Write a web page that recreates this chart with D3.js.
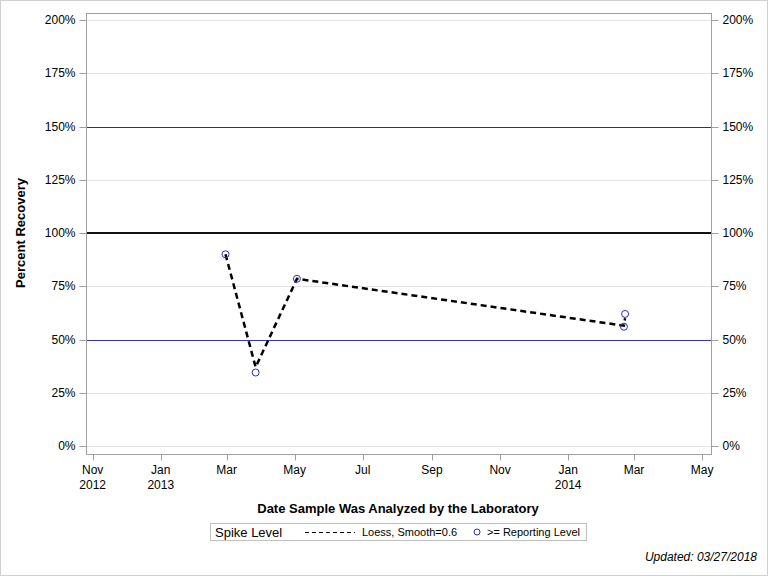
<!DOCTYPE html>
<html><head><meta charset="utf-8">
<script src="https://cdn.jsdelivr.net/npm/d3@7"></script>
<style>
body{margin:0;background:#fff;}
svg{display:block;font-family:"Liberation Sans",Arial,sans-serif;}
</style></head><body>
<svg id="chart" width="768" height="576"></svg>
<script>
// ---- data ----
const pointDates = ["2013-02-28","2013-03-27","2013-05-03","2014-02-21","2014-02-20"];
const pointValues = [90, 34.5, 78.5, 62, 56];
const loessDates = ["2013-02-28","2013-03-27","2013-05-03","2014-02-20","2014-02-21"];
const loessValues = [90, 37, 78.5, 56.5, 60];
const yTicks = [0, 25, 50, 75, 100, 125, 150, 175, 200];
const xTickDates = ["2012-11-01","2013-01-01","2013-03-01","2013-05-01","2013-07-01","2013-09-01","2013-11-01","2014-01-01","2014-03-01","2014-05-01"];
const xTickLabels = [["Nov","2012"],["Jan","2013"],["Mar",""],["May",""],["Jul",""],["Sep",""],["Nov",""],["Jan","2014"],["Mar",""],["May",""]];
const refLines = [{v:150,color:"#2c2c8a",w:1},{v:100,color:"#111",w:2},{v:50,color:"#3535c8",w:1}];

const parse = d3.utcParse("%Y-%m-%d");
const svg = d3.select("#chart");
const L=86, R=711, T=13, B=454;

svg.append("rect").attr("x",0.5).attr("y",0.5).attr("width",767).attr("height",575)
  .attr("fill","none").attr("stroke","#d0d0d0");

const x = d3.scaleUtc().domain([parse("2012-10-26"), parse("2014-05-09")]).range([L,R]);
const y = d3.scaleLinear().domain([0,200]).range([446,20]);
const ys = v => Math.round(y(v)) + 0.5;

// gridlines
svg.append("g").selectAll("line").data(yTicks).join("line")
  .attr("x1",L).attr("x2",R).attr("y1",d=>ys(d)).attr("y2",d=>ys(d))
  .attr("stroke","#e4e4e4");

// reference lines
svg.append("g").selectAll("line").data(refLines).join("line")
  .attr("x1",L).attr("x2",R)
  .attr("y1",d=>d.w===1?ys(d.v):Math.round(y(d.v)))
  .attr("y2",d=>d.w===1?ys(d.v):Math.round(y(d.v)))
  .attr("stroke",d=>d.color).attr("stroke-width",d=>d.w);

// frame
svg.append("rect").attr("x",L+0.5).attr("y",T+0.5).attr("width",R-L).attr("height",B-T)
  .attr("fill","none").attr("stroke","#a0a0a0");

// y axes
const yl = svg.append("g").attr("transform",`translate(${L+0.5},0)`)
  .call(d3.axisLeft(y).tickValues(yTicks).tickFormat(d=>d+"%").tickSize(7).tickPadding(4));
const yr = svg.append("g").attr("transform",`translate(${R+0.5},0)`)
  .call(d3.axisRight(y).tickValues(yTicks).tickFormat(d=>d+"%").tickSize(7).tickPadding(4));
[yl,yr].forEach(g=>{
  g.select(".domain").remove();
  g.selectAll(".tick").attr("transform",d=>`translate(0,${ys(d)})`);
  g.selectAll(".tick line").attr("stroke","#a0a0a0");
  g.selectAll(".tick text").attr("font-size","12px").attr("fill","#000")
    .attr("font-family","'Liberation Sans',Arial,sans-serif");
});

// x axis
const xa = svg.append("g").attr("transform",`translate(0,${B+0.5})`)
  .call(d3.axisBottom(x).tickValues(xTickDates.map(parse)).tickFormat("").tickSize(6));
xa.select(".domain").remove();
xa.selectAll(".tick").attr("transform",d=>`translate(${Math.round(x(d))+0.5},0)`);
xa.selectAll(".tick line").attr("stroke","#a0a0a0");
const xl = svg.append("g").selectAll("text").data(xTickDates).join("text")
  .attr("x",d=>x(parse(d))).attr("y",474).attr("text-anchor","middle")
  .attr("font-size","12px").attr("font-family","'Liberation Sans Narrow','Arial Narrow','Liberation Sans',sans-serif");
xl.append("tspan").attr("x",d=>x(parse(d))).attr("dy",0).text((d,i)=>xTickLabels[i][0]);
xl.append("tspan").attr("x",d=>x(parse(d))).attr("dy",15).text((d,i)=>xTickLabels[i][1]);

// axis titles
svg.append("text").attr("x",398).attr("y",513).attr("text-anchor","middle")
  .attr("font-weight","bold").attr("font-size","13px")
  .attr("font-family","'Liberation Sans Narrow','Arial Narrow','Liberation Sans',sans-serif")
  .text("Date Sample Was Analyzed by the Laboratory");
svg.append("text").attr("transform","translate(25,233) rotate(-90)").attr("text-anchor","middle")
  .attr("font-weight","bold").attr("font-size","13px")
  .attr("font-family","'Liberation Sans Narrow','Arial Narrow','Liberation Sans',sans-serif")
  .text("Percent Recovery");

// loess line
const line = d3.line().x(d=>x(d[0])).y(d=>y(d[1]));
svg.append("path").datum(loessDates.map((d,i)=>[parse(d),loessValues[i]]))
  .attr("d",line).attr("fill","none").attr("stroke","#000").attr("stroke-width",2.5)
  .attr("stroke-dasharray","6,4");

// points
svg.append("g").selectAll("circle").data(pointDates).join("circle")
  .attr("cx",d=>x(parse(d))).attr("cy",(d,i)=>y(pointValues[i])).attr("r",3.5)
  .attr("fill","none").attr("stroke","#2a2ad0").attr("stroke-width",1);

// legend
const lg = svg.append("g");
lg.append("rect").attr("x",210.5).attr("y",523.5).attr("width",376).attr("height",17)
  .attr("fill","#fff").attr("stroke","#c0c0c0");
lg.append("text").attr("x",215).attr("y",537).attr("font-size","13px").text("Spike Level");
lg.append("line").attr("x1",305).attr("x2",355).attr("y1",532.5).attr("y2",532.5)
  .attr("stroke","#000").attr("stroke-width",1).attr("stroke-dasharray","4,3");
lg.append("text").attr("x",362).attr("y",536).attr("font-size","11px").text("Loess, Smooth=0.6");
lg.append("circle").attr("cx",477).attr("cy",532).attr("r",3).attr("fill","none").attr("stroke","#2a2ad0");
lg.append("text").attr("x",487).attr("y",536).attr("font-size","11px").text(">= Reporting Level");

svg.append("text").attr("x",757).attr("y",561).attr("text-anchor","end")
  .attr("font-size","12px").attr("font-style","italic").text("Updated: 03/27/2018");
</script>
</body></html>
